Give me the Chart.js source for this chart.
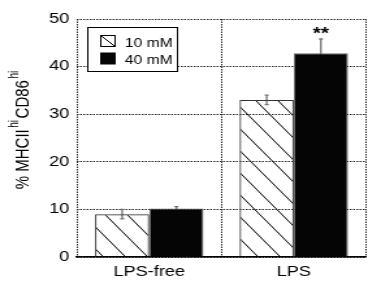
<!DOCTYPE html>
<html>
<head>
<meta charset="utf-8">
<script src="https://cdn.jsdelivr.net/npm/chart.js@4.4.0/dist/chart.umd.min.js"></script>
<style>
  html, body { margin: 0; padding: 0; background: #fff; overflow: hidden; }
  /* the reference is stretched horizontally, so the whole chart is too */
  #wrap { width: 283px; height: 287px; transform: scaleX(1.3004); transform-origin: 0 0; }
</style>
</head>
<body>
<div id="wrap"><canvas id="graphBar"></canvas></div>
<script>
const categories = ['LPS-free', 'LPS'];
const seriesLabels = ['10 mM', '40 mM'];
const values10 = [9.0, 33.0];
const values40 = [10.2, 42.8];
const errors10 = [1.0, 1.0];
const errors40 = [0.4, 3.0];
const yTicks = [0, 10, 20, 30, 40, 50];
const marks40 = ['', '**'];

const FONT = '"Liberation Sans", Arial, sans-serif';

// motif hachuré "\" pour la série 10 mM
function makeHatch() {
    const w = 17, h = 22;
    const c = document.createElement('canvas');
    c.width = w; c.height = h;
    const g = c.getContext('2d');
    g.strokeStyle = '#000';
    g.lineWidth = 1;
    [-w, 0, w].forEach(dx => {
        g.beginPath();
        g.moveTo(dx - w, -h);
        g.lineTo(dx + 2 * w, 2 * h);
        g.stroke();
    });
    return g.createPattern(c, 'repeat');
}

const errors = [errors10, errors40];

// barres d'erreur, dessinées sous les barres
const errorBars = {
    id: 'errorBars',
    beforeDatasetsDraw(chart) {
        const ctx = chart.ctx;
        const y = chart.scales.y;
        ctx.save();
        ctx.strokeStyle = '#707070';
        ctx.lineWidth = 1.3;
        chart.data.datasets.forEach((ds, i) => {
            chart.getDatasetMeta(i).data.forEach((bar, j) => {
                const v = ds.data[j], e = errors[i][j];
                const yt = y.getPixelForValue(v + e);
                const yb = y.getPixelForValue(v - e);
                ctx.beginPath();
                ctx.moveTo(bar.x, yt); ctx.lineTo(bar.x, yb);
                ctx.moveTo(bar.x - 1.5, yt); ctx.lineTo(bar.x + 1.5, yt);
                ctx.moveTo(bar.x - 1.5, yb); ctx.lineTo(bar.x + 1.5, yb);
                ctx.stroke();
            });
        });
        ctx.restore();
    },
    afterDatasetsDraw(chart) {
        const ctx = chart.ctx;
        const y = chart.scales.y;
        ctx.save();
        ctx.fillStyle = '#000';
        ctx.font = 'bold 16px ' + FONT;
        ctx.textAlign = 'center';
        ctx.textBaseline = 'alphabetic';
        chart.getDatasetMeta(1).data.forEach((bar, j) => {
            if (!marks40[j]) return;
            const yt = y.getPixelForValue(values40[j] + errors40[j]);
            ctx.fillText(marks40[j], bar.x, yt);
        });
        ctx.restore();
    }
};

// légende encadrée dans la zone du graphique + titre de l'axe Y avec exposants
const extras = {
    id: 'extras',
    afterDraw(chart) {
        const ctx = chart.ctx;
        ctx.save();
        // cadre de légende
        ctx.fillStyle = '#fff';
        ctx.fillRect(67, 27, 69, 44);
        ctx.strokeStyle = '#000';
        ctx.lineWidth = 1;
        ctx.strokeRect(67.5, 27.5, 69, 44);

        ctx.strokeRect(77.5, 35.5, 11, 11);
        ctx.beginPath();
        ctx.moveTo(77.5, 35.5); ctx.lineTo(88.5, 46.5);
        ctx.stroke();
        ctx.fillStyle = '#050505';
        ctx.fillRect(77, 52.5, 12, 12);

        ctx.fillStyle = '#000';
        ctx.font = '12px ' + FONT;
        ctx.textAlign = 'left';
        ctx.textBaseline = 'alphabetic';
        ctx.fillText(seriesLabels[0], 96, 46.5);
        ctx.fillText(seriesLabels[1], 96, 64);

        // titre Y
        const parts = [
            ['% MHCII', 15, 0, 0],
            ['hi', 10, -8, 1.5],
            ['CD86', 15, 0, 1.5],
            ['hi', 10, -8, 1.5]
        ];
        let total = 0;
        parts.forEach(p => {
            ctx.font = p[1] + 'px ' + FONT;
            total += p[3] + ctx.measureText(p[0]).width;
        });
        ctx.translate(22, 130);
        ctx.rotate(-Math.PI / 2);
        let x = -total / 2;
        parts.forEach(p => {
            ctx.font = p[1] + 'px ' + FONT;
            x += p[3];
            ctx.fillText(p[0], x, p[2]);
            x += ctx.measureText(p[0]).width;
        });
        ctx.restore();
    }
};

const hatch = makeHatch();

new Chart(document.getElementById('graphBar'), {
    type: 'bar',
    data: {
        labels: categories,
        datasets: [
            {
                label: seriesLabels[0],
                data: values10,
                backgroundColor: hatch,
                borderColor: '#333',
                borderWidth: 1
            },
            {
                label: seriesLabels[1],
                data: values40,
                backgroundColor: '#050505',
                borderColor: '#666',
                borderWidth: 1
            }
        ]
    },
    options: {
        responsive: true,
        maintainAspectRatio: false,
        animation: false,
        events: [],
        layout: { padding: { top: 19, right: 1.5, left: 0, bottom: 0 } },
        datasets: { bar: { categoryPercentage: 0.75, barPercentage: 1.0 } },
        plugins: {
            legend: { display: false },
            tooltip: { enabled: false }
        },
        scales: {
            x: {
                afterFit: s => { s.height = 30; },
                grid: { color: '#2a2a2a', lineWidth: 1, drawTicks: false },
                border: { display: true, color: '#000', width: 1.5, dash: [1.5, 1] },
                ticks: { color: '#000', font: { family: FONT, size: 14 }, padding: 7 }
            },
            y: {
                min: 0,
                max: 50,
                afterFit: s => { s.width = 59.2; },
                afterBuildTicks: s => { s.ticks = yTicks.map(v => ({ value: v })); },
                grid: { color: '#2a2a2a', lineWidth: 1, drawTicks: false },
                border: { display: false, dash: [1.5, 1] },
                ticks: { color: '#000', font: { family: FONT, size: 14 }, padding: 6 }
            }
        }
    },
    plugins: [errorBars, extras]
});
</script>
</body>
</html>
